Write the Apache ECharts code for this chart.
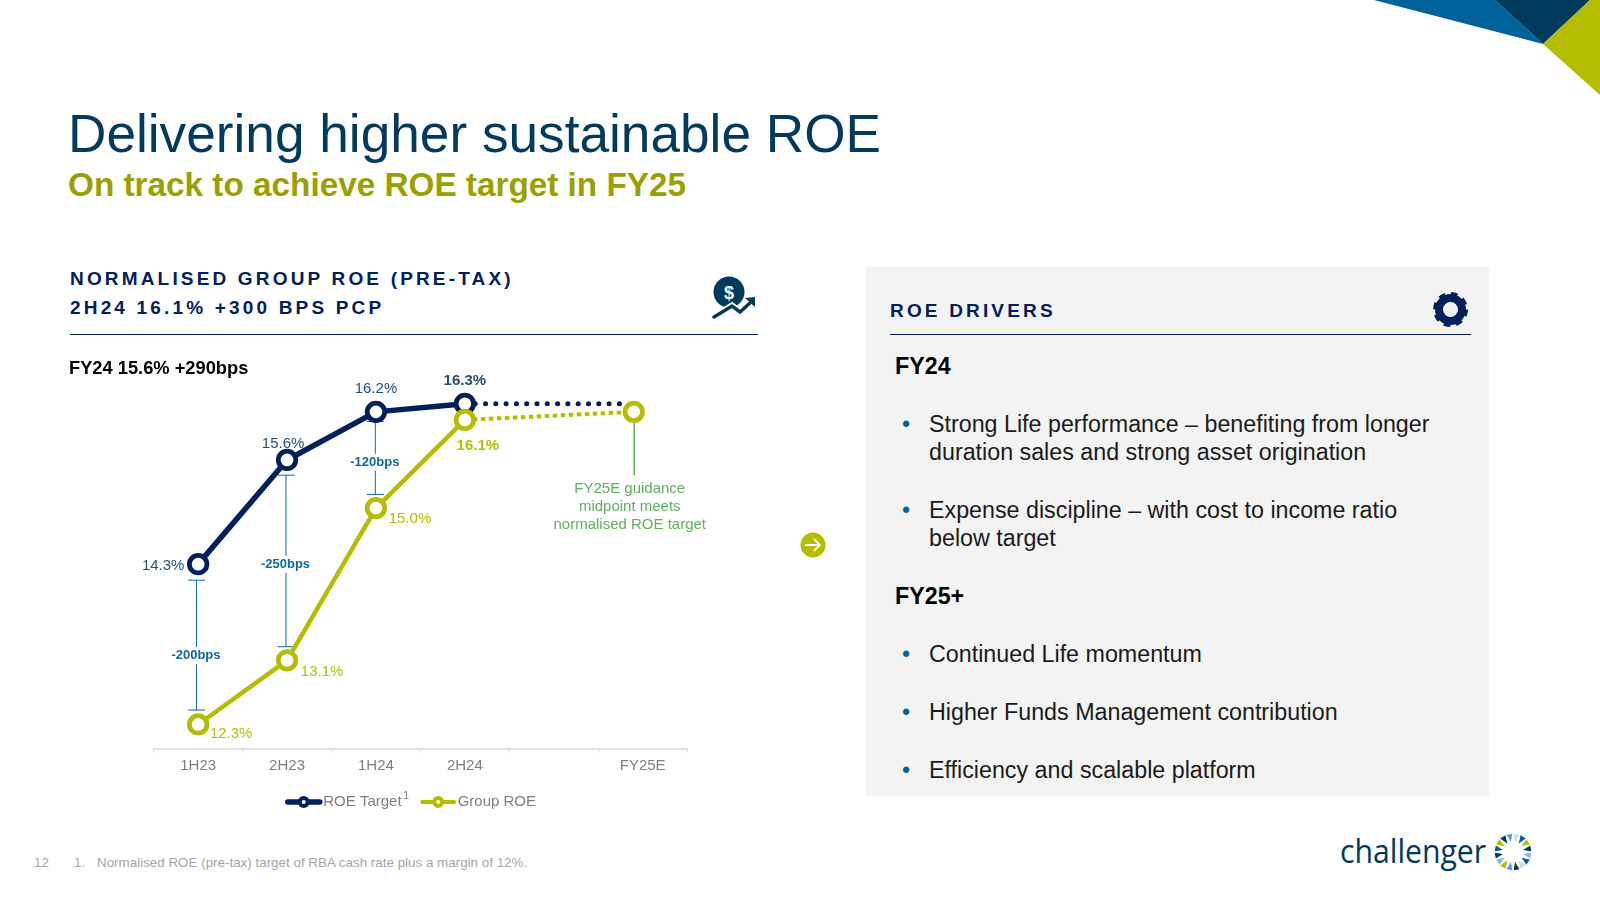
<!DOCTYPE html>
<html>
<head>
<meta charset="utf-8">
<title>Delivering higher sustainable ROE</title>
<script src="https://cdn.jsdelivr.net/npm/echarts@6/dist/echarts.min.js"></script>
<style>
  html, body { margin: 0; padding: 0; background: #fff; }
  body { width: 1600px; height: 900px; position: relative; overflow: hidden; font-family: "Liberation Sans", Arial, sans-serif; }
  .abs { position: absolute; white-space: nowrap; }
  .mid { transform: translateY(-50%); }
  #chart { position: absolute; left: 60px; top: 340px; width: 700px; height: 490px; }
  #deco { position: absolute; left: 0; top: 0; }
  .title { left: 68px; top: 133px; font-size: 53.2px; color: #003a5d; }
  .subtitle { left: 68px; top: 185px; font-size: 33.3px; font-weight: bold; color: #9aa000; }
  .head { font-size: 19px; font-weight: bold; letter-spacing: 3.17px; color: #00205b; }
  .panel { left: 866px; top: 267px; width: 623px; height: 529px; background: #f3f3f3; }
  .body { left: 929px; font-size: 23.27px; color: #1a1a1a; }
  .strong { left: 895px; font-size: 23.27px; font-weight: bold; color: #000; }
  .dot { left: 902px; font-size: 23.27px; color: #00629b; }
  .foot { font-size: 13.4px; color: #a6a6a6; top: 862px; }
  .logo { left: 1340px; top: 850px; font-family: "Open Sans", sans-serif; font-size: 33px; color: #003a5d; transform: translateY(-50%) scaleX(0.915); transform-origin: left center; }
</style>
</head>
<body>
<div class="abs panel"></div>
<svg id="deco" width="1600" height="900">
  <polygon points="1374,0 1543,44 1495,0" fill="#00629b"/>
  <polygon points="1495,0 1543,44 1590,0" fill="#003a5d"/>
  <polygon points="1590,0 1600,0 1600,95 1543,44" fill="#b5bd00"/>
  <line x1="70" y1="334.5" x2="758" y2="334.5" stroke="#00205b" stroke-width="1"/>
  <line x1="890" y1="334.5" x2="1471" y2="334.5" stroke="#00205b" stroke-width="1"/>
  <!-- dollar icon -->
  <circle cx="729" cy="292" r="15.5" fill="#003a5d"/>
  <text x="729" y="298.5" text-anchor="middle" font-size="18" font-weight="bold" fill="#fff" font-family="Liberation Sans">$</text>
  <polyline points="714,317 732,306 740,312 752,301" fill="none" stroke="#fff" stroke-width="7"/>
  <polyline points="714,317 732,306 740,312 751,302" fill="none" stroke="#003a5d" stroke-width="3.5" stroke-linecap="round"/>
  <polygon points="745,298 755,297 755,307" fill="#003a5d"/>
  <!-- gear icon -->
  <circle cx="1450.5" cy="309.5" r="11.5" fill="none" stroke="#00205b" stroke-width="8"/>
  <circle cx="1450.5" cy="309.5" r="15" fill="none" stroke="#00205b" stroke-width="5" stroke-dasharray="6.3 5.48"/>
  <!-- arrow -->
  <circle cx="813" cy="545" r="12.5" fill="#b5bd00"/>
  <path d="M805 545H820M814 539L820 545L814 551" fill="none" stroke="#fff" stroke-width="1.8"/>
  <g id="medal"></g>
</svg>

<div class="abs mid title">Delivering higher sustainable ROE</div>
<div class="abs mid subtitle">On track to achieve ROE target in FY25</div>
<div class="abs mid head" style="left:70px;top:278.5px">NORMALISED GROUP ROE (PRE-TAX)</div>
<div class="abs mid head" style="left:70px;top:307.5px">2H24 16.1% +300 BPS PCP</div>
<div class="abs mid head" style="left:890px;top:311px">ROE DRIVERS</div>

<div class="abs mid strong" style="top:366px">FY24</div>
<div class="abs mid dot" style="top:424px">•</div>
<div class="abs mid body" style="top:424px">Strong Life performance – benefiting from longer</div>
<div class="abs mid body" style="top:452px">duration sales and strong asset origination</div>
<div class="abs mid dot" style="top:510px">•</div>
<div class="abs mid body" style="top:510px">Expense discipline – with cost to income ratio</div>
<div class="abs mid body" style="top:538px">below target</div>
<div class="abs mid strong" style="top:596px">FY25+</div>
<div class="abs mid dot" style="top:654px">•</div>
<div class="abs mid body" style="top:654px">Continued Life momentum</div>
<div class="abs mid dot" style="top:712px">•</div>
<div class="abs mid body" style="top:712px">Higher Funds Management contribution</div>
<div class="abs mid dot" style="top:770px">•</div>
<div class="abs mid body" style="top:770px">Efficiency and scalable platform</div>

<div class="abs mid foot" style="left:34px">12</div>
<div class="abs mid foot" style="left:74px">1.</div>
<div class="abs mid foot" style="left:97px">Normalised ROE (pre-tax) target of RBA cash rate plus a margin of 12%.</div>
<div class="abs logo">challenger</div>

<div id="chart"></div>

<script>
// chart data
const categories = ['1H23', '2H23', '1H24', '2H24', '', 'FY25E'];
const targetRoe = [14.3, 15.6, 16.2, 16.3];
const groupRoe = [12.3, 13.1, 15.0, 16.1];

// dotted run on to the FY25E guidance point (x is on the hidden value axis, 0 = 1H23)
const targetForecastX = [3, 4.82];
const targetForecast = [16.3, 16.3];
const groupForecastX = [3, 4.9];
const groupForecast = [16.1, 16.2];

// gap brackets between the two lines
const gapX = [-0.019, 0.988, 1.993];
const gapTop = [14.10, 15.41, 16.08];
const gapBottom = [12.48, 13.27, 15.17];
const gapLabelAt = [13.16, 14.30, 15.57];
const gapLabels = ['-200bps', '-250bps', '-120bps'];

// guidance callout
const calloutX = [4.9];
const calloutTop = [16.06];
const calloutBottom = [15.41];
const calloutText = ['FY25E guidance\nmidpoint meets\nnormalised ROE target'];

const NAVY = '#00205b';
const LIME = '#b5bd00';
const FONT = '"Liberation Sans", Arial, sans-serif';

// label offsets from the marker centre
const targetLabelOffset = [[-35, 1.5], [-4, -16], [0, -23], [0, -23]];
const groupLabelOffset = [[33, 9], [35, 12], [34, 11], [13, 26]];

function pointData(values, offsets, color, boldIndex) {
    return values.map(function (v, i) {
        return {
            value: v,
            label: {
                show: true,
                position: 'inside',
                offset: offsets[i],
                formatter: v.toFixed(1) + '%',
                color: color,
                fontFamily: FONT,
                fontSize: 15,
                fontWeight: i === boldIndex ? 'bold' : 'normal'
            }
        };
    });
}

function renderGap(params, api) {
    const x = api.value(0);
    const top = api.coord([x, api.value(1)]);
    const bottom = api.coord([x, api.value(2)]);
    const mid = api.coord([x, api.value(3)]);
    const px = top[0];
    const stroke = { stroke: '#0a6aa1', lineWidth: 1 };
    return {
        type: 'group',
        children: [
            { type: 'line', shape: { x1: px, y1: top[1], x2: px, y2: bottom[1] }, style: stroke },
            { type: 'line', shape: { x1: px - 8.5, y1: top[1], x2: px + 8.5, y2: top[1] }, style: stroke },
            { type: 'line', shape: { x1: px - 8.5, y1: bottom[1], x2: px + 8.5, y2: bottom[1] }, style: stroke },
            {
                type: 'text',
                style: {
                    x: px - 0.5, y: mid[1],
                    text: gapLabels[params.dataIndex],
                    align: 'center', verticalAlign: 'middle',
                    fill: '#0a6aa1', font: 'bold 13px ' + FONT,
                    backgroundColor: '#fff', padding: [2, 0]
                }
            }
        ]
    };
}

function renderCallout(params, api) {
    const x = api.value(0);
    const top = api.coord([x, api.value(1)]);
    const bottom = api.coord([x, api.value(2)]);
    return {
        type: 'group',
        children: [
            { type: 'line', shape: { x1: top[0] + 0.5, y1: top[1], x2: top[0] + 0.5, y2: bottom[1] }, style: { stroke: '#5cb15c', lineWidth: 1.5 } },
            {
                type: 'text',
                style: {
                    x: top[0] - 4, y: bottom[1] + 5,
                    text: calloutText[params.dataIndex],
                    align: 'center', verticalAlign: 'top',
                    fill: '#5cb15c', font: '15px ' + FONT, lineHeight: 18
                }
            }
        ]
    };
}

const chart = echarts.init(document.getElementById('chart'));
chart.setOption({
    animation: false,
    title: {
        text: 'FY24 15.6% +290bps',
        left: 9, top: 20, padding: 0,
        textStyle: { color: '#000', fontFamily: FONT, fontSize: 18.3, fontWeight: 'bold' }
    },
    legend: {
        data: [
            { name: 'ROE Target', lineStyle: { width: 5.5, cap: 'round' }, itemStyle: { borderWidth: 4 } },
            { name: 'Group ROE', lineStyle: { width: 4, cap: 'round' }, itemStyle: { borderWidth: 4 } }
        ],
        left: 225, top: 451,
        itemWidth: 32, itemHeight: 10, itemGap: 11,
        padding: 0,
        textStyle: {
            color: '#7f7f7f', fontFamily: FONT, fontSize: 15, padding: [0, 0, 0, -1.5],
            rich: { sup: { fontSize: 10, color: '#7f7f7f', fontFamily: FONT, padding: [0, 0, 12, 2] } }
        },
        formatter: function (name) { return name === 'ROE Target' ? name + '{sup|1}' : name; }
    },
    grid: { left: 93.7, top: 7.75, width: 533.4, height: 400.75 },
    xAxis: [
        {
            type: 'category',
            data: categories,
            axisLine: { show: true, lineStyle: { color: '#d9d9d9', width: 1.5 } },
            axisTick: { show: true, length: 4, alignWithLabel: false, lineStyle: { color: '#d9d9d9', width: 1 } },
            axisLabel: { interval: 0, color: '#7f7f7f', fontFamily: FONT, fontSize: 15, margin: 10 }
        },
        { type: 'value', min: -0.5, max: 5.5, show: false }
    ],
    yAxis: { type: 'value', min: 12, max: 17, show: false },
    series: [
        {
            name: 'gaps', type: 'custom', xAxisIndex: 1, z: 1,
            renderItem: renderGap,
            data: gapX.map(function (x, i) { return [x, gapTop[i], gapBottom[i], gapLabelAt[i]]; })
        },
        {
            name: 'callout', type: 'custom', xAxisIndex: 1, z: 1,
            renderItem: renderCallout,
            data: calloutX.map(function (x, i) { return [x, calloutTop[i], calloutBottom[i]]; })
        },
        {
            name: 'target forecast', type: 'line', xAxisIndex: 1, z: 2, symbol: 'none',
            lineStyle: { color: NAVY, width: 5, type: [0.1, 10.2], cap: 'round' },
            data: targetForecastX.map(function (x, i) { return [x, targetForecast[i]]; })
        },
        {
            name: 'group forecast', type: 'line', xAxisIndex: 1, z: 2,
            symbol: function (v, p) { return p.dataIndex === 1 ? 'circle' : 'none'; },
            symbolSize: 17.5, showSymbol: true,
            itemStyle: { color: '#fff', borderColor: LIME, borderWidth: 4.8 },
            lineStyle: { color: LIME, width: 4, type: [4.5, 3.5] },
            data: groupForecastX.map(function (x, i) { return [x, groupForecast[i]]; })
        },
        {
            name: 'ROE Target', type: 'line', z: 3,
            symbol: 'circle', symbolSize: 17.5,
            itemStyle: { color: '#fff', borderColor: NAVY, borderWidth: 4.8 },
            lineStyle: { color: NAVY, width: 5.5 },
            data: pointData(targetRoe, targetLabelOffset, '#1f5078', 3)
        },
        {
            name: 'Group ROE', type: 'line', z: 4,
            symbol: 'circle', symbolSize: 17.5,
            itemStyle: { color: '#fff', borderColor: LIME, borderWidth: 4.8 },
            lineStyle: { color: LIME, width: 4.5 },
            data: pointData(groupRoe, groupLabelOffset, LIME, 3)
        }
    ]
});

// logo medallion
const medalColors = ['#8fb8d8', '#00629b', '#c9dcea', '#003a5d', '#5f9fc8', '#b5bd00', '#8fb8d8', '#003a5d', '#00629b', '#b5bd00', '#003a5d', '#5f9fc8', '#c9dcea', '#00629b', '#b5bd00', '#003a5d'];
let medal = '';
medalColors.forEach(function (c, i) {
    const n = medalColors.length;
    const a = i / n * Math.PI * 2;
    const b = (i + 1) / n * Math.PI * 2;
    const m = (i + 0.5) / n * Math.PI * 2;
    const p = [[1513 + 19 * Math.cos(a), 852 + 19 * Math.sin(a)], [1513 + 19 * Math.cos(b), 852 + 19 * Math.sin(b)], [1513 + 9 * Math.cos(m), 852 + 9 * Math.sin(m)]];
    medal += '<polygon points="' + p.map(function (q) { return q.join(','); }).join(' ') + '" fill="' + c + '" stroke="#fff" stroke-width="1"/>';
});
document.getElementById('medal').innerHTML = medal;
</script>
</body>
</html>
